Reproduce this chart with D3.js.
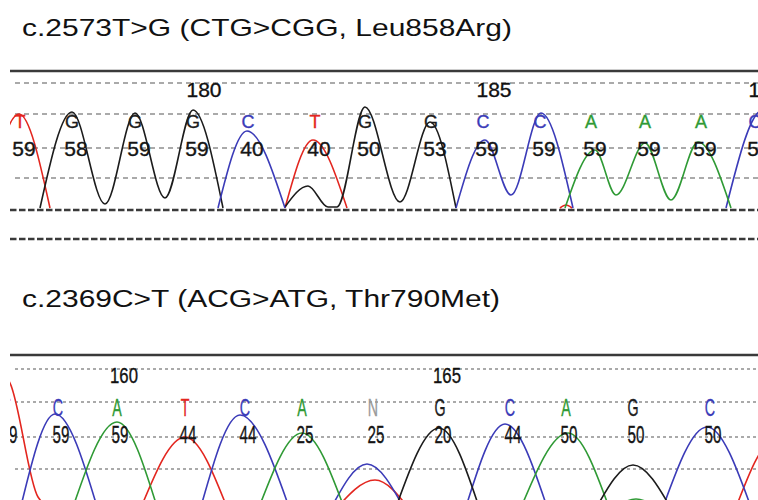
<!DOCTYPE html>
<meta charset="utf-8">
<html>
<head>
<style>
  body { margin: 0; background: #fff; }
  text { font-family: "Liberation Sans", Arial, sans-serif; }
  .title { fill: #111; }
  .label { stroke-width: 0.35px; }
  .grid-thin { stroke: #8f8f8f; stroke-width: 1.6px; fill: none; }
  .grid-base { stroke: #3a3a3a; stroke-width: 2.4px; fill: none; }
  .frame { stroke: #3a3a3a; stroke-width: 2.5px; }
  .trace { fill: none; stroke-width: 1.6px; }
</style>
<script src="https://cdn.jsdelivr.net/npm/d3@7"></script>
</head>
<body>
<div id="chart"></div>
<script>
// ---- data (x in scan units, signal in relative fluorescence) ----
var topTitle = "c.2573T>G (CTG>CGG, Leu858Arg)";
var topBases = ["T","G","G","G","C","T","G","G","C","C","A","A","A","C"];
var topBaseScan = [10, 36, 67.5, 96.5, 124, 157.5, 182.5, 215.5, 241.5, 270, 295.5, 322.5, 350.5, 377.5];
var topQuality = [59, 58, 59, 59, 40, 40, 50, 53, 59, 59, 59, 59, 59, 59];
var topFirstPos = 177;
var topTicks = [180, 185, 190];

var topRed = [
  [[-7,0],[9.5,940],[25,0]],
  [[142.5,0],[156.5,680],[173.5,0]],
  [[280,0],[283,30],[286,0]]
];
var topBlack = [
  [[20,0],[36,960],[52.5,40],[67.5,950],[82.5,100],[96.5,980],[111.5,0]],
  [[142.5,10],[154,220],[164,10],[168.5,10],[182.5,1010],[200,60],[215,860],[228,0]]
];
var topBlue = [
  [[109,0],[123.5,770],[142.5,0]],
  [[228,0],[242.5,680],[255.5,130],[270.5,950],[286.5,0]],
  [[363,0],[381.5,980],[397.5,0]]
];
var topGreen = [
  [[282.5,0],[297.5,580],[308,130],[322.5,650],[335.5,80],[349,660],[365.5,0]]
];

var bottomTitle = "c.2369C>T (ACG>ATG, Thr790Met)";
var bottomBases = ["T","C","A","T","C","A","N","G","C","A","G","C"];
var bottomBaseScan = [3, 29, 58.5, 92.5, 122.5, 151, 186.5, 220, 255, 283, 316.5, 355];
var bottomQuality = [59, 59, 59, 44, 44, 25, 25, 20, 44, 50, 50, 50];
var bottomFirstPos = 158;
var bottomTicks = [160, 165];

var bottomRed = [
  [[-20,0],[-4,1450],[5,1270],[19,130],[27.5,0]],
  [[70,0],[92.5,730],[114,0]],
  [[167.5,0],[187.5,300],[205,0]],
  [[367.5,0],[387.5,700],[405,0]]
];
var bottomBlue = [
  [[10,0],[27.5,960],[49,0]],
  [[100,0],[120,950],[145,0]],
  [[165,0],[183.5,460],[202.5,0]],
  [[232.5,0],[252.5,860],[274,0]],
  [[331,0],[353.5,830],[376,0]]
];
var bottomGreen = [
  [[36,0],[58.5,880],[79,0]],
  [[129,0],[151,770],[172.5,0]],
  [[260,0],[284,770],[305,0]],
  [[306,0],[318,110],[330,0]]
];
var bottomBlack = [
  [[197.5,0],[219.5,820],[240,0]],
  [[297.5,0],[316.5,450],[336,0]]
];

var baseColors = { A: "#2f9a35", C: "#3b3bb8", G: "#1c1c1c", T: "#e3261f", N: "#9a9a9a" };

// ---- layout ----
var width = 758, height = 500;

var svg = d3.select("#chart").append("svg")
    .attr("width", width)
    .attr("height", height);

svg.append("text").attr("class", "title")
    .attr("x", 22).attr("y", 36)
    .attr("font-size", 24)
    .attr("textLength", 490).attr("lengthAdjust", "spacingAndGlyphs")
    .text(topTitle);

svg.append("text").attr("class", "title")
    .attr("x", 22).attr("y", 307)
    .attr("font-size", 23)
    .attr("textLength", 478).attr("lengthAdjust", "spacingAndGlyphs")
    .text(bottomTitle);

function drawPanel(p) {
  var x = d3.scaleLinear().domain([0, 379]).range([0, width]);
  var y = d3.scaleLinear().domain([0, 1000]).range([p.base, p.base - 100]);

  svg.append("clipPath").attr("id", p.id)
    .append("rect")
      .attr("x", 10).attr("y", p.top - 2)
      .attr("width", width - 10).attr("height", p.bottom - p.top + 2);

  var g = svg.append("g").attr("clip-path", "url(#" + p.id + ")");

  g.selectAll(".grid-thin").data(p.gridY).enter().append("line")
      .attr("class", "grid-thin")
      .attr("x1", 15).attr("x2", width)
      .attr("y1", function(d) { return d; }).attr("y2", function(d) { return d; })
      .style("stroke-dasharray", p.dash);

  g.selectAll(".grid-base").data(p.baseY).enter().append("line")
      .attr("class", "grid-base")
      .attr("x1", 10).attr("x2", width)
      .attr("y1", function(d) { return d; }).attr("y2", function(d) { return d; })
      .style("stroke-dasharray", "6.5,2.5");

  g.append("line").attr("class", "frame")
      .attr("x1", 10).attr("x2", width)
      .attr("y1", p.top).attr("y2", p.top);

  var line = d3.line()
      .x(function(d) { return x(d[0]); })
      .y(function(d) { return y(d[1]); })
      .curve(d3.curveMonotoneX);

  p.traces.forEach(function(t) {
    g.selectAll(null).data(t.segs).enter().append("path")
        .attr("class", "trace")
        .attr("d", line)
        .style("stroke", t.color);
  });

  // position ticks
  g.selectAll(null).data(p.ticks).enter().append("text")
      .attr("class", "label")
      .attr("text-anchor", "middle")
      .attr("font-size", p.tickSize)
      .attr("fill", "#111").attr("stroke", "#111")
      .attr("transform", function(d) {
        var i = d - p.firstPos;
        return "translate(" + (x(p.baseScan[i]) + p.tickOff) + "," + p.tickY + ") scale(" + p.sx[0] + ",1)";
      })
      .text(function(d) { return d; });

  // base calls
  g.selectAll(null).data(p.bases).enter().append("text")
      .attr("class", "label")
      .attr("text-anchor", "middle")
      .attr("font-size", p.letterSize)
      .attr("fill", function(d) { return baseColors[d]; })
      .attr("stroke", function(d) { return baseColors[d]; })
      .attr("transform", function(d, i) {
        return "translate(" + x(p.baseScan[i]) + "," + p.letterY + ") scale(" + p.sx[1] + ",1)";
      })
      .text(function(d) { return d; });

  // quality values
  g.selectAll(null).data(p.quality).enter().append("text")
      .attr("class", "label")
      .attr("text-anchor", "middle")
      .attr("font-size", p.qualSize)
      .attr("fill", "#151515").attr("stroke", "#151515")
      .attr("transform", function(d, i) {
        return "translate(" + (x(p.baseScan[i]) + p.qualOff) + "," + p.qualY + ") scale(" + p.sx[2] + ",1)";
      })
      .text(function(d) { return d; });
}

drawPanel({
  id: "clipTop", top: 71, bottom: 242, base: 208,
  gridY: [83, 114, 148, 178], baseY: [210, 239], dash: "5,4",
  bases: topBases, baseScan: topBaseScan, quality: topQuality,
  firstPos: topFirstPos, ticks: topTicks,
  tickY: 97, tickOff: 11, tickSize: 21,
  letterY: 128, letterSize: 18,
  qualY: 156, qualOff: 4, qualSize: 21,
  sx: [1, 1, 1],
  traces: [
    { color: baseColors.T, segs: topRed },
    { color: baseColors.G, segs: topBlack },
    { color: baseColors.C, segs: topBlue },
    { color: baseColors.A, segs: topGreen }
  ]
});

drawPanel({
  id: "clipBottom", top: 355, bottom: 500, base: 510,
  gridY: [369, 402, 437, 469, 502], baseY: [], dash: "3,3",
  bases: bottomBases, baseScan: bottomBaseScan, quality: bottomQuality,
  firstPos: bottomFirstPos, ticks: bottomTicks,
  tickY: 383, tickOff: 7, tickSize: 22,
  letterY: 416, letterSize: 23,
  qualY: 443, qualOff: 3, qualSize: 23,
  sx: [0.76, 0.62, 0.66],
  traces: [
    { color: baseColors.T, segs: bottomRed },
    { color: baseColors.C, segs: bottomBlue },
    { color: baseColors.A, segs: bottomGreen },
    { color: baseColors.G, segs: bottomBlack }
  ]
});
</script>
</body>
</html>
